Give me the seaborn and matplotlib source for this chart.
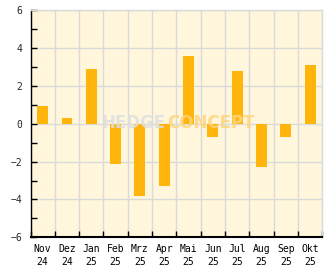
import matplotlib
matplotlib.use("Agg")
import matplotlib.pyplot as plt
import seaborn as sns
import pandas as pd
from matplotlib.ticker import MultipleLocator, FixedLocator

months = ["Nov\n24", "Dez\n24", "Jan\n25", "Feb\n25", "Mrz\n25", "Apr\n25",
          "Mai\n25", "Jun\n25", "Jul\n25", "Aug\n25", "Sep\n25", "Okt\n25"]
values = [0.92, 0.33, 2.88, -2.14, -3.79, -3.31, 3.57, -0.71, 2.77, -2.30, -0.71, 3.09]
y_ticks = [-6, -4, -2, 0, 2, 4, 6]

sns.set_theme(style="white")
plt.rcParams['font.family'] = ['DejaVu Sans Mono', 'DejaVu Sans']

df = pd.DataFrame({"month": months, "value": values})

fig = plt.figure(figsize=(3.32, 2.69), dpi=100)
ax = fig.add_axes([0.0919, 0.1178, 0.8789, 0.8439])
ax.set_facecolor("#FFF6DC")

sns.barplot(data=df, x="month", y="value", color="#FFB50B", width=0.45,
            saturation=1, linewidth=0, ax=ax, zorder=3)

ax.set_ylim(-6, 6)
ax.set_xlim(-0.5, len(months) - 0.5)
ax.yaxis.set_major_locator(FixedLocator(y_ticks))
ax.yaxis.set_minor_locator(MultipleLocator(1))
ax.xaxis.set_minor_locator(FixedLocator([i + 0.5 for i in range(-1, len(months))]))

ax.grid(which="major", axis="y", color="#DADADA", lw=1, zorder=1)
ax.grid(which="minor", axis="x", color="#DADADA", lw=1, zorder=1)
ax.set_axisbelow(True)

ax.tick_params(axis="x", which="major", length=0, pad=5, labelsize=7, colors="black")
ax.tick_params(axis="x", which="minor", direction="in", length=4, width=1, color="black", bottom=True)
ax.tick_params(axis="y", which="both", direction="in", length=4, width=1, color="black", left=True, pad=6, labelsize=7)
for lab in ax.get_xticklabels():
    lab.set_linespacing(1.3)

ax.set_xlabel("")
ax.set_ylabel("")

for s in ["top", "right"]:
    ax.spines[s].set_color("#DADADA")
    ax.spines[s].set_linewidth(1)
ax.spines["left"].set_color("black")
ax.spines["left"].set_linewidth(1)
ax.spines["bottom"].set_color("black")
ax.spines["bottom"].set_linewidth(1.5)

# watermark
t1 = ax.text(0.242, 0.505, "HEDGE", transform=ax.transAxes, fontsize=12, fontweight="bold",
             family="DejaVu Sans", color="#DFDFDF", alpha=0.85,
             ha="left", va="center", zorder=4)
fig.canvas.draw()
bb = t1.get_window_extent()
x1 = ax.transAxes.inverted().transform((bb.x1, bb.y0))[0]
ax.text(x1 + 0.006, 0.505, "CONCEPT", transform=ax.transAxes, fontsize=12, fontweight="bold",
        family="DejaVu Sans", color="#FFD47C", alpha=0.85,
        ha="left", va="center", zorder=4)

fig.savefig("out.png", dpi=100)
